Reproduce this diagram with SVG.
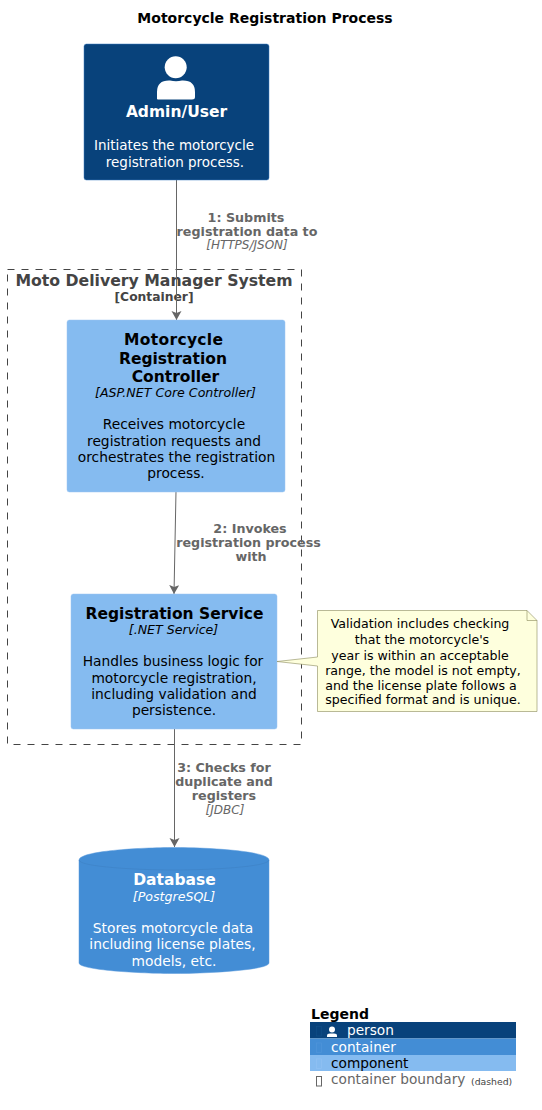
<svg xmlns="http://www.w3.org/2000/svg" width="542" height="1110" viewBox="0 0 542 1110">
<style>
text{font-family:"DejaVu Sans",sans-serif;text-anchor:middle}
.w{fill:#fff}.k{fill:#000}
.t{font-size:15.500px;font-weight:bold}
.d{font-size:13.800px}
.p{font-size:13.500px}
.i{font-size:12.600px;font-style:italic}
.l{font-size:12.700px;font-weight:bold;fill:#666}
.li{font-size:12px;font-style:italic;fill:#666}
.n{font-size:12.600px;fill:#000}
.lg{font-size:13.700px;text-anchor:start}
.c{stroke:#666;fill:none;stroke-width:1}
</style>
<defs><marker id="a" markerUnits="userSpaceOnUse" markerWidth="11" markerHeight="11" refX="9" refY="5" orient="auto"><path d="M0 0L9 5L0 10L2 5Z" fill="#666"/></marker></defs>
<rect width="542" height="1110" fill="#fff"/>
<text id="title" x="265" y="23" style="font-size:14px;font-weight:bold">Motorcycle Registration Process</text>
<g id="boundary">
<rect x="7.500" y="269.500" width="294" height="475" fill="none" stroke="#444" stroke-dasharray="7 7"/>
<text x="154" y="286" style="font-size:15.700px;font-weight:bold;fill:#444">Moto Delivery Manager System</text>
<text x="154" y="301" style="font-size:12.300px;font-weight:bold;fill:#444">[Container]</text>
</g>
<g id="connectors">
<path class="c" d="M176.500 180V320" marker-end="url(#a)"/>
<path class="c" d="M176 491L174 594" marker-end="url(#a)"/>
<path class="c" d="M174.500 728V847" marker-end="url(#a)"/>
<text class="l" x="246" y="222">1: Submits</text><text class="l" x="247" y="236">registration data to</text><text class="li" x="247" y="249">[HTTPS/JSON]</text>
<text class="l" x="250" y="533">2: Invokes</text><text class="l" x="248.500" y="547">registration process</text><text class="l" x="251" y="561">with</text>
<text class="l" x="224" y="772">3: Checks for</text><text class="l" x="224" y="786">duplicate and</text><text class="l" x="224" y="800">registers</text><text class="li" x="225" y="814">[JDBC]</text>
</g>
<g id="user">
<rect x="84" y="44" width="185" height="136" rx="2.500" fill="#08427B" stroke="#3C7FC0" stroke-width=".5"/>
<circle cx="175.700" cy="67.300" r="11" fill="#fff"/><path d="M157 99V92Q157 80 170 80.500Q176 82 182 80.500Q195 80 195 92V97Q195 99.500 192 99.500H160Q157 99.500 157 99Z" fill="#fff"/>
<text class="t w" x="176.500" y="117">Admin/User</text>
<text class="p w" x="174" y="150">Initiates the motorcycle</text><text class="p w" x="175" y="167">registration process.</text>
</g>
<g id="controller">
<rect x="67" y="320" width="218" height="172" rx="2.500" fill="#85BBF0" stroke="#9CC7F2" stroke-width=".5"/>
<text class="t k" x="173.500" y="345" textLength="99">Motorcycle</text><text class="t k" x="173" y="364">Registration</text><text class="t k" x="175.500" y="382">Controller</text>
<text class="i k" x="175.500" y="397">[ASP.NET Core Controller]</text>
<text class="d k" x="174" y="429">Receives motorcycle</text><text class="d k" x="174" y="446">registration requests and</text><text class="d k" x="176.500" y="462">orchestrates the registration</text><text class="d k" x="176" y="478">process.</text>
</g>
<g id="service">
<rect x="71" y="594" width="206" height="135" rx="2.500" fill="#85BBF0" stroke="#9CC7F2" stroke-width=".5"/>
<text class="t k" x="174.500" y="619">Registration Service</text>
<text class="i k" x="173.500" y="634">[.NET Service]</text>
<text class="d k" x="173" y="666">Handles business logic for</text><text class="d k" x="174" y="683">motorcycle registration,</text><text class="d k" x="174" y="699">including validation and</text><text class="d k" x="174" y="715">persistence.</text>
</g>
<g id="note">
<path d="M317.500 610.500H527L537 620.500V711.500H317.500V666L277 661.500L317.500 657Z" fill="#FEFFDD" stroke="#8a8a5a" stroke-width=".6"/>
<path d="M527 610.500V620.500H537" fill="none" stroke="#8a8a5a" stroke-width=".6"/>
<text class="n" x="420" y="628">Validation includes checking</text><text class="n" x="422" y="644">that the motorcycle's</text><text class="n" x="420" y="660">year is within an acceptable</text><text class="n" x="423" y="675">range, the model is not empty,</text><text class="n" x="421" y="689.500">and the license plate follows a</text><text class="n" x="423" y="704">specified format and is unique.</text>
</g>
<g id="database">
<path d="M79 860C79 851 140 847.500 174 847.500C208 847.500 269 851 269 860V963C269 970 208 973.500 174 973.500C140 973.500 79 970 79 963Z" fill="#438DD5" stroke="#5a9bdc" stroke-width=".5"/>
<path d="M79 860C79 867 140 870 174 870C208 870 269 867 269 860" fill="none" stroke="#3C7FC0" stroke-width=".5"/>
<text class="t w" x="174.500" y="885">Database</text>
<text class="i w" x="174" y="901">[PostgreSQL]</text>
<text class="d w" x="173" y="933">Stores motorcycle data</text><text class="d w" x="172.500" y="949">including license plates,</text><text class="d w" x="174" y="966">models, etc.</text>
</g>
<g id="legend">
<text x="311" y="1019" style="font-size:14px;font-weight:bold;text-anchor:start">Legend</text>
<rect x="310" y="1022" width="206" height="16.500" fill="#08427B"/>
<rect x="310" y="1038.500" width="206" height="16.500" fill="#438DD5"/>
<rect x="310" y="1055" width="206" height="16" fill="#85BBF0"/>
<circle cx="332" cy="1029.500" r="3" fill="#fff"/><path d="M327 1037V1035.500Q327 1033.500 330 1033.500H334Q337 1033.500 337 1035.500V1037Z" fill="#fff"/>
<text class="lg w" x="347" y="1035">person</text>
<text class="lg w" x="331" y="1052">container</text>
<text class="lg k" x="331" y="1068">component</text>
<text class="lg" x="331" y="1084" fill="#666">container boundary</text>
<text x="471" y="1085" style="font-size:9.300px;text-anchor:start;fill:#444">(dashed)</text>
<rect x="316.500" y="1076.500" width="5" height="9.500" fill="none" stroke="#666"/>
<rect x="316.500" y="1026.500" width="5" height="9.500" fill="none" stroke="#0f4d87" stroke-width=".7"/>
<rect x="316.500" y="1043" width="5" height="9.500" fill="none" stroke="#4f95d9" stroke-width=".7"/>
<rect x="316.500" y="1059" width="5" height="9.500" fill="none" stroke="#90c1f2" stroke-width=".7"/>
</g>
</svg>
